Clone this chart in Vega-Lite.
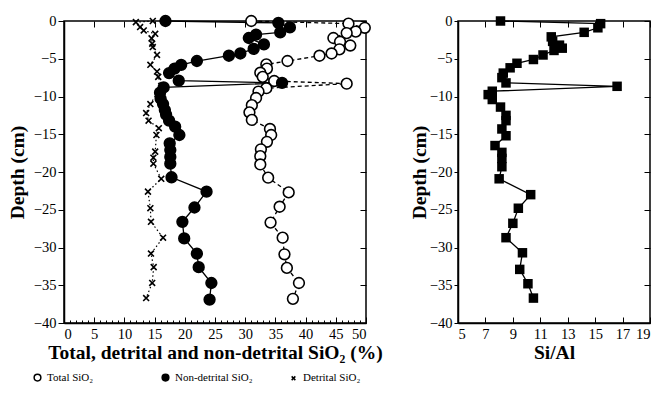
{
  "$schema": "https://vega.github.io/schema/vega-lite/v6.json",
  "padding": {"left": 6, "top": 11, "right": 5, "bottom": 5},
  "background": "white",
  "config": {
    "font": "Liberation Serif",
    "view": {"stroke": "black", "strokeWidth": 1.5},
    "axis": {"labelFont": "Liberation Serif", "labelFontSize": 14.5, "labelColor": "black", "titleFont": "Liberation Serif", "titleFontSize": 19.5, "titleFontWeight": "bold", "titleColor": "black", "domainColor": "black", "tickColor": "black", "grid": false, "domainWidth": 1.5, "tickWidth": 1}
  },
  "datasets": {
    "sio2": [
      {"s": "Total SiO₂", "d": 0, "v": 31.0},
      {"s": "Total SiO₂", "d": -0.35, "v": 47.1},
      {"s": "Total SiO₂", "d": -0.9, "v": 49.8},
      {"s": "Total SiO₂", "d": -1.4, "v": 48.3},
      {"s": "Total SiO₂", "d": -1.6, "v": 46.8},
      {"s": "Total SiO₂", "d": -2.25, "v": 44.6},
      {"s": "Total SiO₂", "d": -2.75, "v": 45.7},
      {"s": "Total SiO₂", "d": -3.25, "v": 47.4},
      {"s": "Total SiO₂", "d": -3.75, "v": 45.6},
      {"s": "Total SiO₂", "d": -4.3, "v": 44.3},
      {"s": "Total SiO₂", "d": -4.6, "v": 42.3},
      {"s": "Total SiO₂", "d": -5.3, "v": 37.0},
      {"s": "Total SiO₂", "d": -5.75, "v": 33.5},
      {"s": "Total SiO₂", "d": -6.3, "v": 33.6},
      {"s": "Total SiO₂", "d": -6.85, "v": 32.5},
      {"s": "Total SiO₂", "d": -7.4, "v": 32.9},
      {"s": "Total SiO₂", "d": -7.95, "v": 34.8},
      {"s": "Total SiO₂", "d": -8.3, "v": 46.8},
      {"s": "Total SiO₂", "d": -8.9, "v": 33.5},
      {"s": "Total SiO₂", "d": -9.35, "v": 32.2},
      {"s": "Total SiO₂", "d": -10.2, "v": 31.8},
      {"s": "Total SiO₂", "d": -11.15, "v": 31.1},
      {"s": "Total SiO₂", "d": -12.1, "v": 30.7},
      {"s": "Total SiO₂", "d": -13.1, "v": 31.1},
      {"s": "Total SiO₂", "d": -14.3, "v": 34.1},
      {"s": "Total SiO₂", "d": -15.1, "v": 34.3},
      {"s": "Total SiO₂", "d": -16.0, "v": 33.6},
      {"s": "Total SiO₂", "d": -17.0, "v": 32.6},
      {"s": "Total SiO₂", "d": -17.9, "v": 32.5},
      {"s": "Total SiO₂", "d": -19.0, "v": 32.5},
      {"s": "Total SiO₂", "d": -20.75, "v": 33.8},
      {"s": "Total SiO₂", "d": -22.7, "v": 37.2},
      {"s": "Total SiO₂", "d": -24.6, "v": 35.7},
      {"s": "Total SiO₂", "d": -26.7, "v": 34.2},
      {"s": "Total SiO₂", "d": -28.7, "v": 36.2},
      {"s": "Total SiO₂", "d": -30.9, "v": 36.5},
      {"s": "Total SiO₂", "d": -32.7, "v": 36.9},
      {"s": "Total SiO₂", "d": -34.7, "v": 38.9},
      {"s": "Total SiO₂", "d": -36.8, "v": 37.9},
      {"s": "Non-detrital SiO₂", "d": 0, "v": 16.8},
      {"s": "Non-detrital SiO₂", "d": -0.25, "v": 35.5},
      {"s": "Non-detrital SiO₂", "d": -0.85, "v": 37.4},
      {"s": "Non-detrital SiO₂", "d": -1.5, "v": 35.8},
      {"s": "Non-detrital SiO₂", "d": -1.8, "v": 31.8},
      {"s": "Non-detrital SiO₂", "d": -2.25, "v": 30.6},
      {"s": "Non-detrital SiO₂", "d": -3.1, "v": 33.1},
      {"s": "Non-detrital SiO₂", "d": -3.7, "v": 31.4},
      {"s": "Non-detrital SiO₂", "d": -4.3, "v": 29.2},
      {"s": "Non-detrital SiO₂", "d": -4.6, "v": 27.3},
      {"s": "Non-detrital SiO₂", "d": -5.3, "v": 22.0},
      {"s": "Non-detrital SiO₂", "d": -5.8, "v": 19.4},
      {"s": "Non-detrital SiO₂", "d": -6.3, "v": 18.3},
      {"s": "Non-detrital SiO₂", "d": -6.9, "v": 17.4},
      {"s": "Non-detrital SiO₂", "d": -7.9, "v": 19.0},
      {"s": "Non-detrital SiO₂", "d": -8.2, "v": 36.1},
      {"s": "Non-detrital SiO₂", "d": -8.8, "v": 16.5},
      {"s": "Non-detrital SiO₂", "d": -9.5, "v": 15.9},
      {"s": "Non-detrital SiO₂", "d": -10.3, "v": 16.0},
      {"s": "Non-detrital SiO₂", "d": -11.0, "v": 16.4},
      {"s": "Non-detrital SiO₂", "d": -11.8, "v": 16.7},
      {"s": "Non-detrital SiO₂", "d": -12.4, "v": 16.9},
      {"s": "Non-detrital SiO₂", "d": -13.2, "v": 17.4},
      {"s": "Non-detrital SiO₂", "d": -14.0, "v": 18.4},
      {"s": "Non-detrital SiO₂", "d": -15.1, "v": 19.1},
      {"s": "Non-detrital SiO₂", "d": -16.2, "v": 17.5},
      {"s": "Non-detrital SiO₂", "d": -17.1, "v": 17.6},
      {"s": "Non-detrital SiO₂", "d": -18.0, "v": 17.6},
      {"s": "Non-detrital SiO₂", "d": -18.9, "v": 17.6},
      {"s": "Non-detrital SiO₂", "d": -20.7, "v": 17.8},
      {"s": "Non-detrital SiO₂", "d": -22.6, "v": 23.6},
      {"s": "Non-detrital SiO₂", "d": -24.7, "v": 21.6},
      {"s": "Non-detrital SiO₂", "d": -26.6, "v": 19.6},
      {"s": "Non-detrital SiO₂", "d": -28.8, "v": 19.9},
      {"s": "Non-detrital SiO₂", "d": -30.8, "v": 22.0},
      {"s": "Non-detrital SiO₂", "d": -32.6, "v": 22.3},
      {"s": "Non-detrital SiO₂", "d": -34.7, "v": 24.4},
      {"s": "Non-detrital SiO₂", "d": -36.9, "v": 24.1},
      {"s": "Detrital SiO₂", "d": 0, "v": 14.7},
      {"s": "Detrital SiO₂", "d": -0.15, "v": 11.9},
      {"s": "Detrital SiO₂", "d": -0.8, "v": 12.6},
      {"s": "Detrital SiO₂", "d": -1.25, "v": 13.2},
      {"s": "Detrital SiO₂", "d": -1.7, "v": 15.1},
      {"s": "Detrital SiO₂", "d": -2.3, "v": 14.5},
      {"s": "Detrital SiO₂", "d": -3.0, "v": 14.6},
      {"s": "Detrital SiO₂", "d": -3.45, "v": 14.7},
      {"s": "Detrital SiO₂", "d": -4.5, "v": 15.4},
      {"s": "Detrital SiO₂", "d": -5.8, "v": 14.3},
      {"s": "Detrital SiO₂", "d": -6.7, "v": 15.4},
      {"s": "Detrital SiO₂", "d": -7.4, "v": 15.6},
      {"s": "Detrital SiO₂", "d": -8.6, "v": 16.1},
      {"s": "Detrital SiO₂", "d": -11.0, "v": 14.3},
      {"s": "Detrital SiO₂", "d": -12.2, "v": 13.6},
      {"s": "Detrital SiO₂", "d": -13.2, "v": 14.0},
      {"s": "Detrital SiO₂", "d": -14.2, "v": 15.7},
      {"s": "Detrital SiO₂", "d": -15.1, "v": 15.3},
      {"s": "Detrital SiO₂", "d": -17.3, "v": 15.1},
      {"s": "Detrital SiO₂", "d": -18.1, "v": 14.8},
      {"s": "Detrital SiO₂", "d": -18.9, "v": 14.8},
      {"s": "Detrital SiO₂", "d": -20.9, "v": 16.1},
      {"s": "Detrital SiO₂", "d": -22.6, "v": 13.9},
      {"s": "Detrital SiO₂", "d": -24.8, "v": 14.3},
      {"s": "Detrital SiO₂", "d": -26.6, "v": 14.4},
      {"s": "Detrital SiO₂", "d": -28.7, "v": 16.4},
      {"s": "Detrital SiO₂", "d": -30.8, "v": 14.4},
      {"s": "Detrital SiO₂", "d": -32.6, "v": 14.85},
      {"s": "Detrital SiO₂", "d": -34.7, "v": 14.6},
      {"s": "Detrital SiO₂", "d": -36.7, "v": 13.6}
    ],
    "sial": [
      {"d": 0, "v": 8.1},
      {"d": -0.35, "v": 15.4},
      {"d": -0.9, "v": 15.2},
      {"d": -1.5, "v": 14.2},
      {"d": -2.1, "v": 11.8},
      {"d": -2.7, "v": 11.9},
      {"d": -3.2, "v": 12.4},
      {"d": -3.6, "v": 12.6},
      {"d": -3.9, "v": 12.0},
      {"d": -4.5, "v": 11.2},
      {"d": -5.1, "v": 10.5},
      {"d": -5.6, "v": 9.3},
      {"d": -6.2, "v": 8.8},
      {"d": -6.9, "v": 8.3},
      {"d": -7.5, "v": 8.2},
      {"d": -8.2, "v": 8.5},
      {"d": -8.65, "v": 16.6},
      {"d": -9.3, "v": 7.5},
      {"d": -9.75, "v": 7.2},
      {"d": -10.4, "v": 7.5},
      {"d": -11.4, "v": 8.1},
      {"d": -12.5, "v": 8.5},
      {"d": -13.2, "v": 8.5},
      {"d": -14.3, "v": 8.2},
      {"d": -15.2, "v": 8.5},
      {"d": -16.5, "v": 7.7},
      {"d": -17.4, "v": 8.2},
      {"d": -18.2, "v": 8.2},
      {"d": -19.3, "v": 8.2},
      {"d": -20.9, "v": 8.0},
      {"d": -23.0, "v": 10.3},
      {"d": -24.8, "v": 9.4},
      {"d": -26.8, "v": 9.0},
      {"d": -28.7, "v": 8.5},
      {"d": -30.7, "v": 9.7},
      {"d": -32.9, "v": 9.5},
      {"d": -34.8, "v": 10.1},
      {"d": -36.7, "v": 10.5}
    ]
  },
  "bounds": "flush",
  "spacing": 92,
  "hconcat": [
    {
      "width": 302,
      "height": 302,
      "data": {"name": "sio2"},
      "resolve": {"axis": {"x": "independent", "y": "independent"}},
      "layer": [
        {
          "transform": [{"filter": "datum.s === 'Total SiO₂'"}],
          "mark": {"type": "line", "stroke": "black", "strokeWidth": 1.3, "strokeDash": [4, 3]},
          "encoding": {
            "x": {"field": "v", "type": "quantitative", "scale": {"domain": [0, 50], "nice": false}, "axis": null},
            "y": {"field": "d", "type": "quantitative", "scale": {"domain": [-40, 0], "nice": false}, "axis": null},
            "order": {"field": "d", "type": "quantitative", "sort": "descending"}
          }
        },
        {
          "transform": [{"filter": "datum.s === 'Non-detrital SiO₂'"}],
          "mark": {"type": "line", "stroke": "black", "strokeWidth": 1.3},
          "encoding": {
            "x": {"field": "v", "type": "quantitative", "scale": {"domain": [0, 50], "nice": false}, "axis": null},
            "y": {"field": "d", "type": "quantitative", "scale": {"domain": [-40, 0], "nice": false}, "axis": null},
            "order": {"field": "d", "type": "quantitative", "sort": "descending"}
          }
        },
        {
          "transform": [{"filter": "datum.s === 'Detrital SiO₂'"}],
          "mark": {"type": "line", "stroke": "black", "strokeWidth": 1.2, "strokeDash": [1.5, 2.5]},
          "encoding": {
            "x": {"field": "v", "type": "quantitative", "scale": {"domain": [0, 50], "nice": false}, "axis": null},
            "y": {"field": "d", "type": "quantitative", "scale": {"domain": [-40, 0], "nice": false}, "axis": null},
            "order": {"field": "d", "type": "quantitative", "sort": "descending"}
          }
        },
        {
          "mark": {"type": "point", "strokeWidth": 1.6, "opacity": 1, "fillOpacity": 1, "size": 115},
          "encoding": {
            "x": {"field": "v", "type": "quantitative", "scale": {"domain": [0, 50], "nice": false},
              "axis": {"values": [0, 5, 10, 15, 20, 25, 30, 35, 40, 45, 50], "title": "Total, detrital and non-detrital SiO₂ (%)", "tickSize": -6, "labelPadding": 10, "titlePadding": 3}},
            "y": {"field": "d", "type": "quantitative", "scale": {"domain": [-40, 0], "nice": false},
              "axis": {"values": [0, -5, -10, -15, -20, -25, -30, -35, -40], "title": "Depth (cm)", "tickSize": 6, "labelPadding": 2, "titlePadding": 6}},
            "shape": {"field": "s", "type": "nominal",
              "scale": {"domain": ["Total SiO₂", "Non-detrital SiO₂", "Detrital SiO₂"], "range": ["circle", "circle", "M-0.55,-0.55L0.55,0.55M0.55,-0.55L-0.55,0.55"]},
              "legend": {"orient": "none", "legendX": -32, "legendY": 351, "direction": "horizontal", "columns": 3, "columnPadding": 34, "gridAlign": "all", "title": null, "labelFont": "Liberation Serif", "labelFontSize": 11, "labelColor": "black", "symbolSize": 45, "symbolStrokeWidth": 1.5, "padding": 0}},
            "fill": {"field": "s", "type": "nominal",
              "scale": {"domain": ["Total SiO₂", "Non-detrital SiO₂", "Detrital SiO₂"], "range": ["white", "black", "transparent"]},
              "legend": {"orient": "none", "legendX": -32, "legendY": 351, "direction": "horizontal", "columns": 3, "columnPadding": 34, "gridAlign": "all", "title": null, "labelFont": "Liberation Serif", "labelFontSize": 11, "labelColor": "black", "symbolSize": 45, "symbolStrokeWidth": 1.5, "padding": 0}},
            "stroke": {"field": "s", "type": "nominal",
              "scale": {"domain": ["Total SiO₂", "Non-detrital SiO₂", "Detrital SiO₂"], "range": ["black", "black", "black"]},
              "legend": {"orient": "none", "legendX": -32, "legendY": 351, "direction": "horizontal", "columns": 3, "columnPadding": 34, "gridAlign": "all", "title": null, "labelFont": "Liberation Serif", "labelFontSize": 11, "labelColor": "black", "symbolSize": 45, "symbolStrokeWidth": 1.5, "padding": 0}}
          }
        },
        {
          "mark": {"type": "point", "opacity": 0},
          "encoding": {
            "x": {"field": "v", "type": "quantitative", "scale": {"domain": [0, 50], "nice": false},
              "axis": {"orient": "top", "values": [0, 5, 10, 15, 20, 25, 30, 35, 40, 45, 50], "labels": false, "title": null, "domain": false, "tickSize": -6}},
            "y": {"field": "d", "type": "quantitative", "scale": {"domain": [-40, 0], "nice": false},
              "axis": {"orient": "right", "values": [0, -5, -10, -15, -20, -25, -30, -35, -40], "labels": false, "title": null, "domain": false, "tickSize": -6}}
          }
        },
        {
          "mark": {"type": "point", "opacity": 0},
          "encoding": {
            "x": {"field": "v", "type": "quantitative", "scale": {"domain": [0, 50], "nice": false},
              "axis": {"orient": "bottom", "values": [1,2,3,4,6,7,8,9,11,12,13,14,16,17,18,19,21,22,23,24,26,27,28,29,31,32,33,34,36,37,38,39,41,42,43,44,46,47,48,49], "labels": false, "title": null, "domain": false, "tickSize": -3}}
          }
        }
      ]
    },
    {
      "width": 192,
      "height": 302,
      "data": {"name": "sial"},
      "resolve": {"axis": {"x": "independent", "y": "independent"}},
      "layer": [
        {
          "mark": {"type": "line", "stroke": "black", "strokeWidth": 1.3},
          "encoding": {
            "x": {"field": "v", "type": "quantitative", "scale": {"domain": [5, 19], "nice": false}, "axis": null},
            "y": {"field": "d", "type": "quantitative", "scale": {"domain": [-40, 0], "nice": false}, "axis": null},
            "order": {"field": "d", "type": "quantitative", "sort": "descending"}
          }
        },
        {
          "mark": {"type": "point", "shape": "square", "filled": true, "color": "black", "opacity": 1, "size": 90},
          "encoding": {
            "x": {"field": "v", "type": "quantitative", "scale": {"domain": [5, 19], "nice": false},
              "axis": {"values": [5, 7, 9, 11, 13, 15, 17, 19], "title": "Si/Al", "tickSize": -6, "labelPadding": 10, "titlePadding": 3}},
            "y": {"field": "d", "type": "quantitative", "scale": {"domain": [-40, 0], "nice": false},
              "axis": {"values": [0, -5, -10, -15, -20, -25, -30, -35, -40], "title": "Depth (cm)", "tickSize": 4, "labelPadding": 2, "titlePadding": 0}}
          }
        },
        {
          "mark": {"type": "point", "opacity": 0},
          "encoding": {
            "x": {"field": "v", "type": "quantitative", "scale": {"domain": [5, 19], "nice": false},
              "axis": {"orient": "top", "values": [5, 7, 9, 11, 13, 15, 17, 19], "labels": false, "title": null, "domain": false, "tickSize": -6}},
            "y": {"field": "d", "type": "quantitative", "scale": {"domain": [-40, 0], "nice": false},
              "axis": {"orient": "right", "values": [0, -5, -10, -15, -20, -25, -30, -35, -40], "labels": false, "title": null, "domain": false, "tickSize": -6}}
          }
        }
      ]
    }
  ]
}
